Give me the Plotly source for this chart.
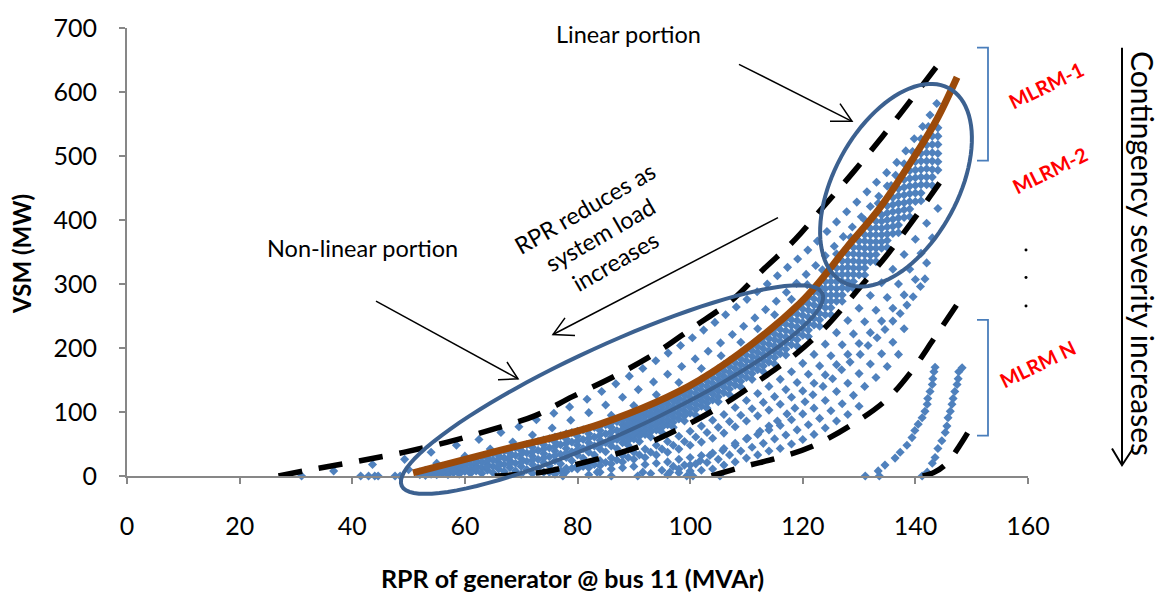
import math
import plotly.graph_objects as go

# ---------------- data ----------------
# upper strands (above the trend line)
U1_x = [31, 36.7, 43.6, 49.3, 54, 58.5, 62.5, 66.4, 69.6, 72.7, 75.8, 78.6, 81.7, 84.3, 86.8, 89.2, 91.6, 93.9, 96.1, 98.3,
        100.4, 102.4, 104.4, 106.3, 108.2, 110.1, 111.9, 113.7, 115.5, 117.3, 119.1, 120.9, 122.6, 124.3, 126, 127.8,
        129.6, 131.4, 133.1, 134.9, 136.7, 138.3, 139.8, 141.3, 142.6, 143.8]
U1_y = [0, 8, 18, 26, 37, 48, 57, 68, 77, 88, 98, 108, 120, 132, 144, 156, 168, 180, 192, 204,
        216, 228, 240, 252, 264, 276, 288, 300, 313, 326, 339, 353, 367, 382, 397, 413,
        428, 444, 459, 474, 490, 508, 527, 546, 564, 582]
U2_x = [44, 50, 55, 60, 64.5, 68.5, 72, 75.5, 78.8, 82, 85, 88, 90.8, 93.5, 96, 98.5, 100.9, 103.2, 105.4, 107.5,
        109.5, 111.5, 113.4, 115.3, 117.1, 118.9, 120.6, 122.3, 124, 125.6, 127.2, 128.8, 130.4, 132, 133.5, 135,
        136.5, 138, 139.5, 141, 142.3]
U2_y = [0, 10, 20, 31, 42, 53, 64, 75, 87, 99, 111, 123, 135, 147, 159, 171, 183, 195, 208, 221,
        234, 247, 260, 273, 287, 301, 315, 329, 344, 359, 374, 389, 405, 421, 437, 453,
        470, 488, 507, 527, 546]
U3_x = [86, 90, 94, 98, 102, 105.5, 109, 112, 115, 118, 120.8, 123.5, 126, 128.5, 131, 133.4, 135.7]
U3_y = [95, 110, 127, 146, 168, 188, 209, 230, 252, 276, 299, 322, 347, 373, 400, 426, 454]

# dense band under the trend line
EVEN_x = [52, 54, 56, 58, 60, 62, 64, 66, 68, 70, 72, 74, 76, 78, 80, 82, 84, 86, 88, 90, 92, 94, 96, 98, 100,
          102, 104, 106, 108, 110, 112, 114, 116, 118, 120, 122, 124, 126, 128, 130, 132, 134, 136, 138, 140, 142, 144]
D1_y = [6, 10, 13, 16, 20, 24, 28, 32, 36, 40, 45, 49, 53, 58, 62, 66, 71, 76, 80, 87, 95, 103, 112, 121, 131,
        142, 154, 165, 177, 189, 202, 215, 229, 244, 261, 277, 293, 314, 336, 357, 377, 398, 424, 451, 478, 505, 531]
D3_y = [4, 6, 8, 11, 13, 16, 18, 21, 24, 27, 31, 35, 39, 43, 48, 52, 56, 61, 66, 72, 80, 88, 96, 105, 115,
        125, 136, 147, 159, 171, 184, 196, 210, 225, 240, 256, 273, 293, 315, 335, 356, 377, 401, 427, 454, 480, 504]
D5_y = [2, 3, 4, 5, 7, 8, 9, 11, 13, 15, 18, 21, 24, 29, 33, 37, 42, 47, 52, 58, 65, 72, 80, 89, 98,
        109, 119, 130, 142, 154, 166, 178, 191, 205, 220, 236, 252, 273, 293, 314, 335, 356, 379, 404, 429, 455, 478]
ODD_x = [53, 55, 57, 59, 61, 63, 65, 67, 69, 71, 73, 75, 77, 79, 81, 83, 85, 87, 89, 91, 93, 95, 97, 99, 101,
         103, 105, 107, 109, 111, 113, 115, 117, 119, 121, 123, 125, 127, 129, 131, 133, 135, 137, 139, 141, 143]
D0_y = [9, 13, 17, 21, 26, 30, 35, 39, 44, 49, 54, 58, 63, 68, 72, 76, 80, 85, 90, 98, 107, 116, 124, 134, 145,
        156, 168, 180, 192, 205, 217, 231, 246, 263, 279, 296, 314, 336, 357, 377, 398, 422, 449, 477, 504, 531]
D2_y = [7, 9, 12, 15, 18, 22, 25, 28, 32, 36, 40, 44, 49, 53, 57, 61, 66, 71, 76, 84, 92, 100, 108, 118, 129,
        140, 151, 162, 174, 187, 199, 213, 227, 243, 259, 275, 294, 315, 336, 356, 377, 400, 426, 453, 479, 505]
D4_y = [4, 6, 7, 9, 11, 13, 15, 18, 20, 23, 26, 30, 34, 38, 43, 47, 52, 57, 62, 69, 76, 84, 92, 102, 112,
        122, 133, 145, 157, 169, 181, 194, 208, 223, 238, 254, 273, 294, 315, 335, 356, 378, 403, 429, 455, 479]
D6_y = [1, 2, 2, 3, 4, 4, 5, 7, 8, 10, 13, 16, 19, 24, 28, 33, 38, 43, 48, 54, 61, 68, 76, 86, 95,
        106, 116, 127, 139, 151, 163, 175, 189, 203, 218, 234, 252, 273, 293, 314, 335, 357, 380, 405, 430, 454]
E_x = [56, 58, 60, 62, 64, 66, 68, 70, 72, 74, 76, 78, 80, 82, 84, 86, 88, 90, 92, 94, 96, 98, 100, 102, 104,
       106, 108, 110, 112, 114, 116, 118, 120, 122, 124, 126, 128, 130, 132, 134, 136, 138, 140, 142, 144]
E0_y = [15, 19, 24, 28, 32, 37, 41, 46, 51, 56, 61, 66, 70, 74, 78, 83, 87, 94, 102, 111, 120, 129, 140, 151, 162,
        174, 186, 198, 211, 224, 238, 254, 271, 288, 304, 325, 347, 367, 387, 408, 435, 463, 491, 517, 544]
E2_y = [11, 14, 17, 20, 23, 27, 30, 34, 38, 42, 46, 51, 55, 59, 64, 69, 73, 80, 87, 96, 104, 113, 123, 134, 145,
        156, 168, 180, 193, 206, 219, 235, 251, 267, 283, 304, 326, 346, 366, 387, 413, 439, 466, 492, 518]
E4_y = [6, 8, 10, 12, 14, 16, 19, 21, 25, 28, 32, 36, 41, 45, 49, 54, 59, 65, 72, 80, 88, 97, 107, 117, 128,
        139, 151, 163, 175, 187, 200, 215, 230, 246, 263, 283, 304, 325, 345, 366, 390, 416, 442, 467, 491]
O_x = [89, 91, 93, 95, 97, 99, 101, 103, 105, 107, 109, 111, 113, 115, 117, 119, 121, 123, 125, 127, 129, 131,
       133, 135, 137, 139, 141, 143]
O1_y = [83, 91, 99, 108, 117, 126, 137, 148, 160, 171, 183, 196, 208, 222, 237, 253, 269, 285, 304, 325, 347, 367,
        388, 411, 438, 465, 492, 518]
O3_y = [69, 76, 84, 92, 100, 110, 120, 131, 142, 153, 165, 178, 190, 203, 217, 233, 248, 265, 283, 304, 325, 346,
        366, 389, 414, 441, 467, 492]
O5_y = [55, 62, 69, 76, 84, 94, 104, 114, 124, 136, 148, 160, 172, 185, 198, 213, 228, 244, 263, 283, 304, 325,
        346, 368, 392, 417, 442, 467]

# strands of the more severe contingencies
LA_x = [70, 72, 74, 76, 78, 80, 82, 84, 86, 88, 90, 92, 94, 96, 98, 100, 102, 104, 106, 108, 110, 112, 114, 116,
        118, 120, 122, 124, 126, 128, 130, 132, 134, 136, 138, 140, 142, 144]
LA_y = [3, 4, 6, 8, 12, 16, 20, 24, 28, 32, 37, 42, 48, 54, 62, 70, 78, 87, 96, 107, 118, 129, 140, 151,
        163, 176, 190, 206, 224, 243, 262, 282, 302, 323, 346, 370, 395, 418]
LB_x = [75, 77, 79, 81, 83, 85, 87, 89, 91, 93, 95, 97, 99, 101, 103, 105, 107, 109, 111, 113, 115, 117, 119, 121,
        123, 125, 127, 129, 131, 133, 135, 137, 139, 141, 143]
LB_y = [6, 8, 12, 15, 18, 21, 25, 29, 33, 37, 42, 48, 54, 61, 68, 76, 85, 95, 105, 115, 124, 135, 146, 159,
        172, 188, 205, 222, 241, 259, 279, 300, 323, 348, 372]
LC_x = [76, 78, 80, 82, 84, 86, 88, 90, 92, 94, 96, 98, 100, 102, 104, 106, 108, 110, 112, 114, 116, 118, 120, 122,
        124, 126, 128, 130, 132, 134, 136, 138, 140, 142]
LC_y = [3, 7, 11, 13, 16, 19, 22, 26, 29, 33, 37, 42, 48, 53, 59, 67, 77, 86, 94, 103, 112, 123, 133, 145,
        158, 174, 190, 207, 224, 242, 262, 283, 307, 333]
L1_x = [96.4, 98, 100, 101.8, 103.5, 105.8, 108, 110.2, 112.4, 114, 115.5, 117.2, 118.6, 120.4, 121.8, 123.6, 125.3,
        126.9, 128.4, 130.2, 131.6, 133.2, 134.6, 136, 137.3, 138.5, 139.6, 140.9, 141.7]
L1_y = [6, 11, 17, 24, 32, 40, 48, 59, 70, 78, 86, 97, 106, 116, 127, 140, 152,
        166, 178, 190, 204, 216, 229, 242, 254, 267, 280, 296, 308]
LD_x = [82, 84, 86, 88, 90, 92, 94, 96, 98, 100, 102, 104, 106, 108, 110, 112, 114, 116, 118, 120, 122, 124, 126,
        128, 130, 132, 134, 136, 138]
LD_y = [2, 6, 11, 13, 15, 18, 20, 22, 26, 29, 32, 36, 43, 51, 58, 65, 72, 79, 88, 97, 106, 118, 132,
        145, 160, 175, 191, 209, 230]
LE_x = [93, 95, 97, 99, 101, 103, 105, 107, 109, 111, 113, 115, 117, 119, 121, 123, 125, 127, 129, 131, 133, 135, 137]
LE_y = [4, 9, 15, 17, 19, 21, 26, 33, 39, 45, 51, 58, 64, 72, 80, 90, 102, 113, 126, 140, 154, 171, 190]
LF_x = [96, 98, 100, 102, 104, 106, 108, 110, 112, 114, 116, 118, 120, 122, 124, 126, 128, 130]
LF_y = [2, 5, 8, 9, 11, 17, 22, 28, 33, 39, 43, 50, 57, 65, 75, 86, 96, 109]
ARC1_x = [131.1, 133.4, 134.6, 136.4, 137.3, 138.5, 139.4, 139.9, 140.5, 141.2, 141.7, 142.1, 142.2, 142.6, 143, 143.1,
          143.3, 143.5]
ARC1_y = [0, 8, 17, 28, 37, 48, 60, 71, 81, 91, 101, 112, 121, 132, 143, 152, 163, 170]
ARC2_x = [141.2, 142.1, 143, 143.5, 144, 144.7, 145.3, 145.6, 145.8, 146.2, 146.5, 146.7, 147, 147.4, 147.6, 147.7, 148.3]
ARC2_y = [0, 6, 20, 29, 43, 55, 68, 78, 91, 101, 112, 121, 132, 143, 152, 163, 169]
BOT_x = [41.5, 42.9, 44.6, 47.6, 48.5, 77.4, 83.5, 86, 90.7, 91.6, 99.4, 100.5, 105.3, 133.6]
BOT_y = [0, 0, 0, 0, 0, 0, 6, 0, 0, 6, 0, 0, 0, 0]

# boundary (dashed) curves of the MLRMs
DA_x = [26.9, 33.3, 40.9, 49.1, 56.9, 64.6, 72.4, 79.1, 86.8, 93.9, 100.5, 107.2, 112.9, 118.7, 123.7, 128.9, 134.2,
        139, 143.8]
DA_y = [0, 11, 23, 37, 53, 72, 94, 124, 157, 192, 232, 273, 322, 370, 421, 474, 531, 585, 640]
DB_x = [65.3, 73.6, 81.3, 90.9, 98.1, 105.4, 112.2, 118.7, 124.4, 129.6, 135.1, 139.7, 144.3]
DB_y = [0, 6, 21.5, 46, 74, 109, 149, 190, 236, 289, 347, 401, 458]
DC_x = [103.8, 109.7, 115.9, 121.6, 128.3, 134.6, 139, 143.4, 148.4]
DC_y = [0, 15, 29, 46, 78, 117, 160, 216, 281]
DD_x = [141.3, 143.4, 145.6, 147.9, 150]
DD_y = [0, 6, 20, 48, 78]

# trend line
TR_x = [50.8, 66.2, 84, 101.7, 119.5, 127.9, 133.7, 139.6, 143.8, 147.4]
TR_y = [5, 40, 81, 150, 270, 358, 419, 496, 557, 623]

X_TICKS = [0, 20, 40, 60, 80, 100, 120, 140, 160]
Y_TICKS = [0, 100, 200, 300, 400, 500, 600, 700]

# ---------------- figure ----------------
W, H = 1166, 596
PL, PR, PT, PB = 127, 1028, 20, 476
FONT = "Lato"


def P(px, py):
    return (px - PL) / (PR - PL), (PB - py) / (PB - PT)


all_x, all_y = [], []
for xs, ys in [(U1_x, U1_y), (U2_x, U2_y), (U3_x, U3_y),
               (EVEN_x, D1_y), (EVEN_x, D3_y), (EVEN_x, D5_y),
               (ODD_x, D0_y), (ODD_x, D2_y), (ODD_x, D4_y), (ODD_x, D6_y),
               (E_x, E0_y), (E_x, E2_y), (E_x, E4_y), (O_x, O1_y), (O_x, O3_y), (O_x, O5_y),
               (LA_x, LA_y), (LB_x, LB_y), (LC_x, LC_y), (L1_x, L1_y), (LD_x, LD_y),
               (LE_x, LE_y), (LF_x, LF_y), (ARC1_x, ARC1_y), (ARC2_x, ARC2_y), (BOT_x, BOT_y)]:
    all_x += xs
    all_y += ys

fig = go.Figure()
fig.add_trace(go.Scatter(x=all_x, y=all_y, mode="markers", cliponaxis=False,
                         marker=dict(symbol="diamond", size=7, color="#4F81BD", line=dict(width=0)),
                         hoverinfo="skip"))
for xs, ys in [(DA_x, DA_y), (DB_x, DB_y), (DC_x, DC_y), (DD_x, DD_y)]:
    fig.add_trace(go.Scatter(x=xs, y=ys, mode="lines", line=dict(color="black", width=5.5, dash="24px,17px",
                                                                 shape="spline"), hoverinfo="skip"))
fig.add_trace(go.Scatter(x=TR_x, y=TR_y, mode="lines", line=dict(color="#9B4A0A", width=7, shape="spline"),
                         hoverinfo="skip"))

shapes = []


def ellipse(cx, cy, a, b, deg, color="#3C6190", width=4):
    th = math.radians(deg)
    pts = []
    for i in range(97):
        t = 2 * math.pi * i / 96
        ex = cx + a * math.cos(t) * math.cos(th) - b * math.sin(t) * math.sin(th)
        ey = cy - (a * math.cos(t) * math.sin(th) + b * math.sin(t) * math.cos(th))
        pts.append(P(ex, ey))
    path = "M " + " L ".join(f"{x:.5f},{y:.5f}" for x, y in pts) + " Z"
    shapes.append(dict(type="path", path=path, xref="paper", yref="paper",
                       line=dict(color=color, width=width), layer="above"))


def polyline(points, color="black", width=1.5):
    pts = [P(px, py) for px, py in points]
    path = "M " + " L ".join(f"{x:.5f},{y:.5f}" for x, y in pts)
    shapes.append(dict(type="path", path=path, xref="paper", yref="paper",
                       line=dict(color=color, width=width), layer="above"))


ellipse(612, 388, 232, 45, 25)
ellipse(896, 180, 112, 62, 62)

# arrows with open heads
polyline([(739, 57), (852, 115)])
polyline([(830, 115), (852, 115), (840, 97)])
polyline([(376, 298), (518, 377)])
polyline([(498, 378), (518, 377), (507, 360)])
polyline([(778, 213), (553, 332)])
polyline([(565, 315), (553, 332), (575, 333)])
polyline([(1122, 40), (1122, 465)], width=2)
polyline([(1112, 448), (1122, 465), (1133, 448)], width=2)

# brackets
polyline([(977, 40), (988, 40), (988, 155), (977, 155)], color="#4A7EBB", width=1.8)
polyline([(977, 317), (988, 317), (988, 435), (977, 435)], color="#4A7EBB", width=1.8)

# vertical ellipsis dots
for py in (246, 274, 303):
    x0, y0 = P(1024.5, py + 1.5)
    x1, y1 = P(1027.5, py - 1.5)
    shapes.append(dict(type="circle", xref="paper", yref="paper", x0=x0, y0=y0, x1=x1, y1=y1,
                       fillcolor="black", line=dict(width=0)))

annotations = []


def text(s, px, py, size, color="black", angle=0, bold=False):
    x, y = P(px, py)
    if bold:
        s = f"<b>{s}</b>"
    annotations.append(dict(text=s, x=x, y=y, xref="paper", yref="paper", showarrow=False,
                            xanchor="center", yanchor="middle", textangle=angle,
                            font=dict(family=FONT, size=size, color=color)))


text("Linear portion", 628, 26, 23.5)
text("Non-linear portion", 362, 244, 23.5)
text("RPR reduces as<br>system load<br>increases", 600, 230, 23.5, angle=-30)
text("MLRM-1", 1046, 78, 20, color="#FF0000", angle=-26, bold=True)
text("MLRM-2", 1050, 165, 20, color="#FF0000", angle=-26, bold=True)
text("MLRM N", 1037, 362, 20, color="#FF0000", angle=-26, bold=True)
text("Contingency severity increases", 1143, 249, 30, angle=90)
text("VSM (MW)", 22, 250, 24, angle=-90, bold=True)
text("RPR of generator @ bus 11 (MVAr)", 572, 580, 25, bold=True)

axis_common = dict(showline=True, linecolor="#878787", linewidth=2, ticks="outside", ticklen=6,
                   tickwidth=1.5, tickcolor="#878787", showgrid=False, zeroline=False,
                   tickfont=dict(family=FONT, size=25, color="black"))
fig.update_layout(
    width=W, height=H, margin=dict(l=PL, r=W - PR, t=PT, b=H - PB),
    paper_bgcolor="white", plot_bgcolor="white", showlegend=False,
    xaxis=dict(range=[0, 160], tickvals=X_TICKS, ticklabelstandoff=21, **axis_common),
    yaxis=dict(range=[0, 700], tickvals=Y_TICKS, ticklabelstandoff=17, **axis_common),
    shapes=shapes, annotations=annotations,
)
fig.write_html("out.html")
